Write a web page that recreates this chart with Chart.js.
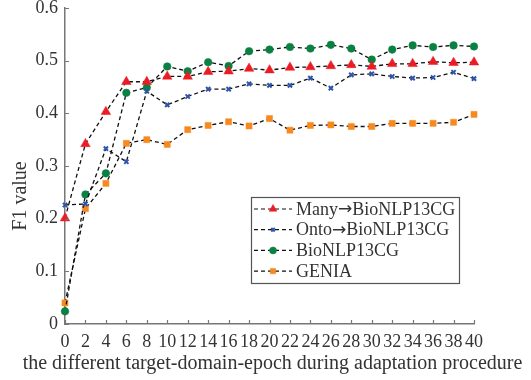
<!DOCTYPE html>
<html>
<head>
<meta charset="utf-8">
<script src="https://cdn.jsdelivr.net/npm/chart.js@4.4.0/dist/chart.umd.min.js"></script>
<style>
  html, body { margin: 0; padding: 0; background: #fff; }
  #wrap { width: 531px; height: 380px; position: relative; }
</style>
</head>
<body>
<div id="wrap"><canvas id="chart"></canvas></div>
<script>
// Data
const epochs = [0, 2, 4, 6, 8, 10, 12, 14, 16, 18, 20, 22, 24, 26, 28, 30, 32, 34, 36, 38, 40];
const seriesNames = ['Many\u2192BioNLP13CG', 'Onto\u2192BioNLP13CG', 'BioNLP13CG', 'GENIA'];
const manyVals = [0.201, 0.342, 0.403, 0.460, 0.460, 0.470, 0.470, 0.479, 0.480, 0.485, 0.482, 0.487, 0.488, 0.490, 0.492, 0.489, 0.494, 0.494, 0.498, 0.496, 0.497];
const ontoVals = [0.226, 0.228, 0.333, 0.308, 0.442, 0.416, 0.432, 0.446, 0.446, 0.456, 0.453, 0.453, 0.467, 0.448, 0.473, 0.475, 0.470, 0.467, 0.468, 0.478, 0.466];
const bioVals = [0.024, 0.246, 0.286, 0.439, 0.449, 0.489, 0.480, 0.497, 0.490, 0.518, 0.521, 0.526, 0.523, 0.530, 0.523, 0.502, 0.521, 0.529, 0.526, 0.529, 0.527];
const geniaVals = [0.040, 0.219, 0.267, 0.343, 0.350, 0.341, 0.369, 0.377, 0.384, 0.376, 0.390, 0.368, 0.377, 0.378, 0.375, 0.375, 0.381, 0.381, 0.381, 0.383, 0.398];
const yTicks = [0, 0.1, 0.2, 0.3, 0.4, 0.5, 0.6];
const xTitle = 'the different target-domain-epoch during adaptation procedure';

const FONT = '"Liberation Serif", "DejaVu Serif", serif';
const ARROW_FONT = '"DejaVu Sans", sans-serif';
const TEXT = '#333333';
const AXIS = '#777777';

const styles = [
  { color: '#ec1c24', point: 'triangle', r: 5.5, lr: 4.5 },
  { color: '#2f55ab', point: 'crossRot', r: 3, lr: 2.5 },
  { color: '#0a8042', point: 'circle', r: 3.8, lr: 3.5 },
  { color: '#f7891f', point: 'rect', r: 4.3, lr: 3.8 }
];
const allVals = [manyVals, ontoVals, bioVals, geniaVals];

function makeDataset(i) {
  const s = styles[i];
  return {
    label: seriesNames[i],
    data: epochs.map((e, k) => ({ x: e, y: allVals[i][k] })),
    borderColor: '#111',
    borderWidth: 1.3,
    borderDash: [4, 3],
    pointStyle: s.point,
    pointRadius: s.r,
    pointBackgroundColor: s.color,
    pointBorderColor: s.color,
    pointBorderWidth: s.point === 'crossRot' ? 2 : 0.5,
    clip: false,
    tension: 0
  };
}

// label text with the arrow drawn in a font that has a proper long arrow
function drawLabel(ctx, label, x, y) {
  const parts = label.split('\u2192');
  let cx = x;
  parts.forEach((p, k) => {
    if (k > 0) {
      ctx.font = '17px ' + ARROW_FONT;
      ctx.fillText('\u2192', cx, y);
      cx += ctx.measureText('\u2192').width;
    }
    ctx.font = '18px ' + FONT;
    ctx.fillText(p, cx, y);
    cx += ctx.measureText(p).width;
  });
}

// inward ticks, axis titles and boxed legend inside the plot
const extras = {
  id: 'extras',
  afterDraw(chart) {
    const ctx = chart.ctx;
    const ca = chart.chartArea;
    const xs = chart.scales.x, ys = chart.scales.y;
    ctx.save();
    ctx.strokeStyle = AXIS;
    ctx.lineWidth = 1.2;
    ctx.beginPath();
    xs.ticks.forEach(t => {
      const px = Math.round(xs.getPixelForValue(t.value)) + 0.5;
      ctx.moveTo(px, ca.bottom);
      ctx.lineTo(px, ca.bottom - 4);
    });
    ys.ticks.forEach(t => {
      const py = Math.round(ys.getPixelForValue(t.value)) + 0.5;
      ctx.moveTo(ca.left, py);
      ctx.lineTo(ca.left + 4, py);
    });
    ctx.stroke();

    // x title
    ctx.fillStyle = TEXT;
    ctx.font = '20px ' + FONT;
    ctx.textAlign = 'center';
    ctx.textBaseline = 'alphabetic';
    ctx.fillText(xTitle, (ca.left + ca.right) / 2 + 3, ca.bottom + 45);

    // y title
    ctx.textBaseline = 'middle';
    ctx.translate(21, ca.top + 188);
    ctx.rotate(-Math.PI / 2);
    ctx.fillText('F1 value', 0, 0);
    ctx.restore();

    // legend box
    const lx = ca.right - 223, ly = ca.top + 189, lw = 208, lh = 86;
    ctx.save();
    ctx.fillStyle = '#fff';
    ctx.fillRect(lx, ly, lw, lh);
    ctx.strokeStyle = '#555';
    ctx.lineWidth = 1.2;
    ctx.strokeRect(lx + 0.5, ly + 0.5, lw, lh);
    chart.data.datasets.forEach((ds, i) => {
      const y = ly + 12 + i * 20.7;
      ctx.strokeStyle = '#111';
      ctx.lineWidth = 1.2;
      ctx.setLineDash([4, 3]);
      ctx.beginPath();
      ctx.moveTo(lx + 3, y);
      ctx.lineTo(lx + 41, y);
      ctx.stroke();
      ctx.setLineDash([]);
      const s = styles[i];
      ctx.fillStyle = s.color;
      ctx.strokeStyle = s.color;
      ctx.lineWidth = s.point === 'crossRot' ? 2 : 0.5;
      Chart.helpers.drawPoint(ctx, { pointStyle: s.point, radius: s.lr, borderWidth: ctx.lineWidth, rotation: 0 }, lx + 22, y);
      ctx.fillStyle = TEXT;
      ctx.textAlign = 'left';
      ctx.textBaseline = 'middle';
      drawLabel(ctx, ds.label, lx + 45, y + 1);
    });
    ctx.restore();
  }
};

const chart = new Chart(document.getElementById('chart'), {
  type: 'line',
  data: { datasets: [0, 1, 2, 3].map(makeDataset) },
  options: {
    responsive: true,
    maintainAspectRatio: false,
    animation: false,
    layout: { padding: { left: 0, right: 57, top: 8, bottom: 0 } },
    plugins: { legend: { display: false }, tooltip: { enabled: false } },
    scales: {
      x: {
        type: 'linear',
        min: 0,
        max: 40,
        ticks: { stepSize: 2, autoSkip: false, maxRotation: 0, padding: 7, color: TEXT, font: { family: FONT, size: 18 } },
        grid: { display: false, drawTicks: false },
        border: { display: true, color: AXIS, width: 1.5 },
        afterFit: s => { s.height = 56; s.paddingRight = 0; s.paddingLeft = 0; }
      },
      y: {
        min: 0,
        max: 0.6,
        afterBuildTicks: s => { s.ticks = yTicks.map(v => ({ value: v })); },
        ticks: {
          padding: 7,
          color: TEXT,
          font: { family: FONT, size: 18 },
          callback: v => (v === 0 ? '0' : v.toFixed(1))
        },
        grid: { display: false, drawTicks: false },
        border: { display: true, color: AXIS, width: 1.5 },
        afterFit: s => { s.width = 65; s.paddingTop = 0; s.paddingBottom = 0; }
      }
    }
  },
  plugins: [extras]
});
</script>
</body>
</html>
